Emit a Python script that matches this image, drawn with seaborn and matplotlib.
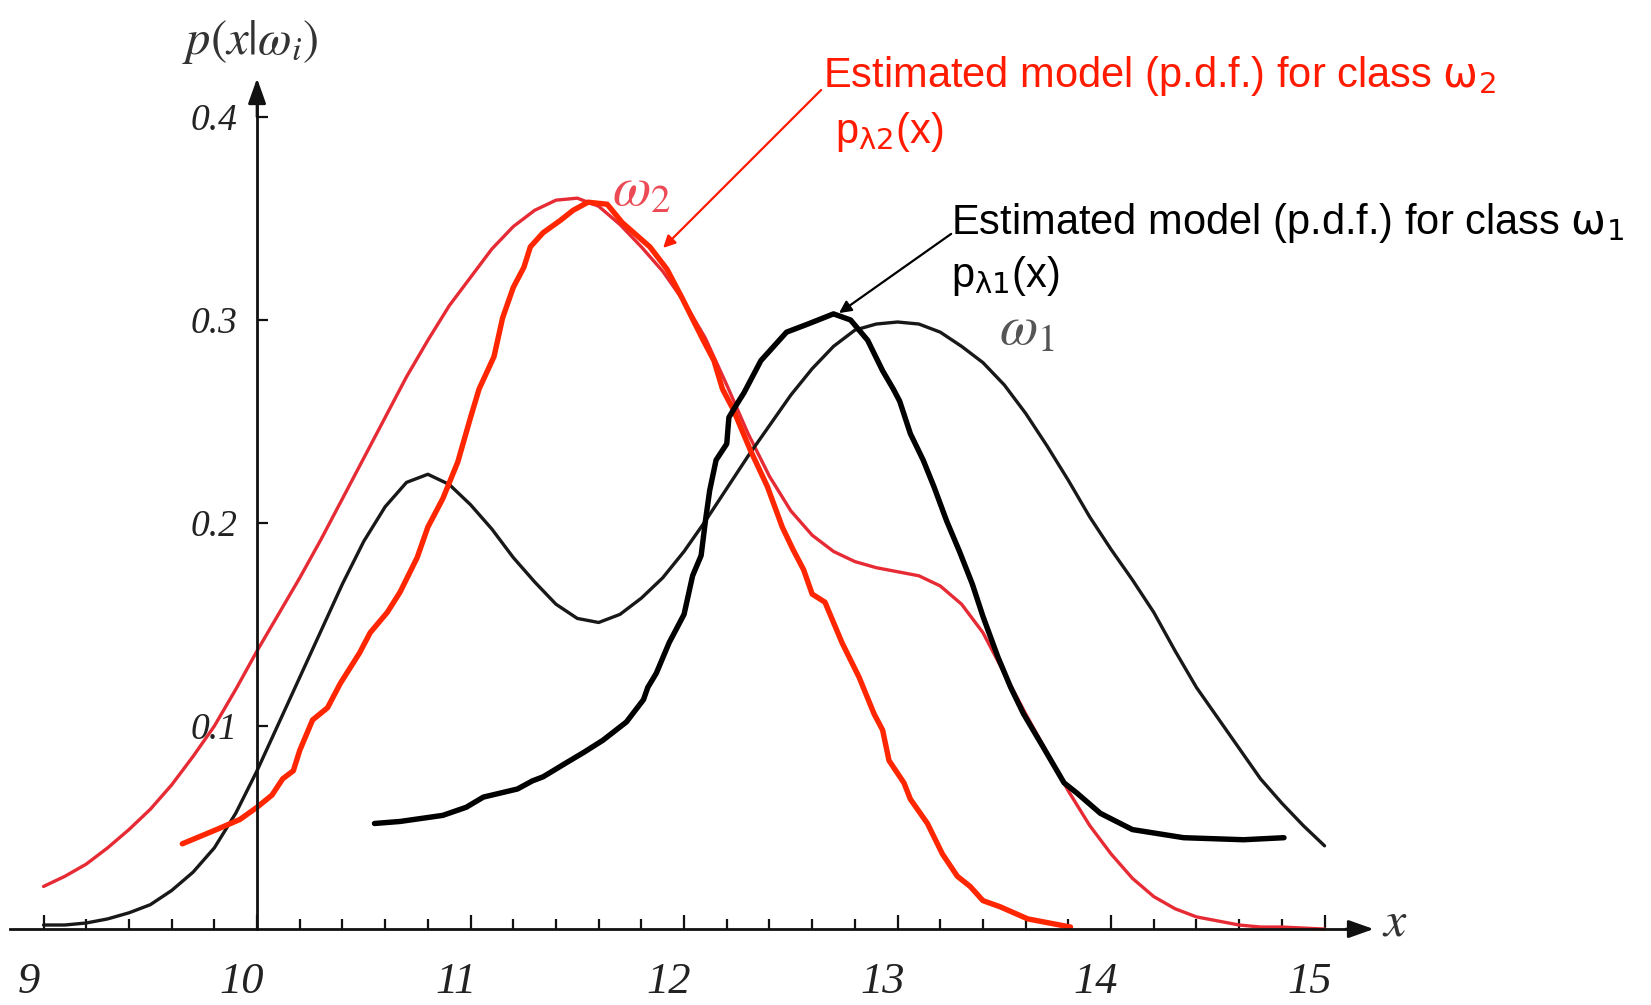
import numpy as np
import pandas as pd
import matplotlib
matplotlib.use('Agg')
import matplotlib.pyplot as plt
import matplotlib.transforms as mtransforms
import seaborn as sns

# true p.d.f. of class w2 (smooth red curve)
true2_x = [9.0, 9.1, 9.2, 9.3, 9.4, 9.5, 9.6, 9.7, 9.8, 9.9, 10.0, 10.1, 10.2, 10.3, 10.4,
           10.5, 10.6, 10.7, 10.8, 10.9, 11.0, 11.1, 11.2, 11.3, 11.4, 11.5, 11.6, 11.7,
           11.8, 11.9, 12.0, 12.1, 12.2, 12.3, 12.4, 12.5, 12.6, 12.7, 12.8, 12.9, 13.0,
           13.1, 13.2, 13.3, 13.4, 13.5, 13.6, 13.7, 13.8, 13.9, 14.0, 14.1, 14.2, 14.3,
           14.4, 14.5, 14.6, 14.7, 14.8, 14.9, 15.0]
true2_y = [0.021, 0.026, 0.032, 0.040, 0.049, 0.059, 0.071, 0.085, 0.100, 0.118, 0.137,
           0.155, 0.173, 0.192, 0.212, 0.232, 0.252, 0.272, 0.290, 0.307, 0.321, 0.335,
           0.346, 0.354, 0.359, 0.360, 0.356, 0.347, 0.336, 0.324, 0.309, 0.291, 0.268,
           0.244, 0.223, 0.206, 0.194, 0.186, 0.181, 0.178, 0.176, 0.174, 0.169, 0.160,
           0.146, 0.126, 0.106, 0.087, 0.068, 0.051, 0.037, 0.025, 0.016, 0.010, 0.006,
           0.004, 0.002, 0.001, 0.001, 0.0005, 0.0]

# true p.d.f. of class w1 (smooth black curve)
true1_x = [9.0, 9.1, 9.2, 9.3, 9.4, 9.5, 9.6, 9.7, 9.8, 9.9, 10.0, 10.1, 10.2, 10.3, 10.4,
           10.5, 10.6, 10.7, 10.8, 10.9, 11.0, 11.1, 11.2, 11.3, 11.4, 11.5, 11.6, 11.7,
           11.8, 11.9, 12.0, 12.1, 12.2, 12.3, 12.4, 12.5, 12.6, 12.7, 12.8, 12.9, 13.0,
           13.1, 13.2, 13.3, 13.4, 13.5, 13.6, 13.7, 13.8, 13.9, 14.0, 14.1, 14.2, 14.3,
           14.4, 14.5, 14.6, 14.7, 14.8, 14.9, 15.0]
true1_y = [0.002, 0.002, 0.003, 0.005, 0.008, 0.012, 0.019, 0.028, 0.040, 0.057, 0.078,
           0.101, 0.124, 0.147, 0.170, 0.191, 0.208, 0.220, 0.224, 0.219, 0.209, 0.197,
           0.183, 0.171, 0.160, 0.153, 0.151, 0.155, 0.163, 0.173, 0.186, 0.201, 0.217,
           0.233, 0.248, 0.263, 0.276, 0.287, 0.295, 0.298, 0.299, 0.298, 0.294, 0.287,
           0.279, 0.268, 0.254, 0.238, 0.221, 0.203, 0.187, 0.172, 0.156, 0.137, 0.119,
           0.104, 0.089, 0.074, 0.062, 0.051, 0.041]

# estimated model for class w2 (wiggly red curve)
est2_x = [9.65, 9.81, 9.92, 10.0, 10.07, 10.12, 10.17, 10.20, 10.26, 10.33, 10.39, 10.48,
          10.53, 10.61, 10.67, 10.75, 10.80, 10.87, 10.94, 11.00, 11.04, 11.11, 11.15,
          11.20, 11.25, 11.28, 11.34, 11.42, 11.48, 11.55, 11.64, 11.71, 11.84, 11.92,
          11.99, 12.09, 12.14, 12.18, 12.23, 12.31, 12.39, 12.46, 12.51, 12.56, 12.60,
          12.66, 12.70, 12.74, 12.82, 12.89, 12.93, 12.96, 13.03, 13.06, 13.14, 13.21,
          13.28, 13.34, 13.40, 13.48, 13.61, 13.81]
est2_y = [0.042, 0.049, 0.054, 0.060, 0.066, 0.074, 0.078, 0.088, 0.103, 0.109, 0.121,
          0.136, 0.146, 0.156, 0.166, 0.183, 0.198, 0.212, 0.230, 0.252, 0.266, 0.282,
          0.301, 0.316, 0.326, 0.336, 0.343, 0.349, 0.354, 0.358, 0.357, 0.348, 0.336,
          0.325, 0.311, 0.290, 0.280, 0.266, 0.256, 0.236, 0.218, 0.198, 0.187, 0.177,
          0.165, 0.161, 0.151, 0.141, 0.124, 0.106, 0.098, 0.083, 0.072, 0.064, 0.052,
          0.037, 0.026, 0.021, 0.014, 0.011, 0.005, 0.001]

# estimated model for class w1 (wiggly black curve)
est1_x = [10.55, 10.67, 10.87, 10.98, 11.06, 11.22, 11.29, 11.34, 11.45, 11.53, 11.62,
          11.73, 11.81, 11.83, 11.87, 11.93, 12.00, 12.04, 12.08, 12.10, 12.12, 12.15,
          12.20, 12.21, 12.25, 12.28, 12.32, 12.36, 12.42, 12.48, 12.58, 12.70, 12.78,
          12.86, 12.93, 12.98, 13.01, 13.06, 13.12, 13.17, 13.23, 13.29, 13.35, 13.40,
          13.47, 13.53, 13.59, 13.68, 13.78, 13.84, 13.95, 14.10, 14.34, 14.62, 14.81]
est1_y = [0.052, 0.053, 0.056, 0.060, 0.065, 0.069, 0.073, 0.075, 0.082, 0.087, 0.093,
          0.102, 0.113, 0.119, 0.126, 0.141, 0.155, 0.174, 0.184, 0.201, 0.216, 0.231,
          0.239, 0.252, 0.259, 0.264, 0.272, 0.280, 0.287, 0.294, 0.298, 0.303, 0.300,
          0.290, 0.275, 0.266, 0.260, 0.244, 0.231, 0.218, 0.201, 0.186, 0.170, 0.154,
          0.134, 0.119, 0.106, 0.090, 0.072, 0.067, 0.057, 0.049, 0.045, 0.044, 0.045]

x_ticks = [9, 10, 11, 12, 13, 14, 15]
x_tick_labels = ['9', '10', '11', '12', '13', '14', '15']
y_ticks = [0.1, 0.2, 0.3, 0.4]
y_tick_labels = ['0.1', '0.2', '0.3', '0.4']

sns.set_style('white')
plt.rcParams['font.family'] = ['Liberation Sans', 'DejaVu Sans']

fig = plt.figure(figsize=(16.51, 10.05), dpi=100)
ax = fig.add_axes([0, 0, 1, 1])

sns.lineplot(x=true2_x, y=true2_y, ax=ax, color='#e62b35', lw=2.4, sort=False, estimator=None)
sns.lineplot(x=true1_x, y=true1_y, ax=ax, color='#181818', lw=2.4, sort=False, estimator=None)
sns.lineplot(x=est2_x, y=est2_y, ax=ax, color='#ff2600', lw=3.9, sort=False, estimator=None)
sns.lineplot(x=est1_x, y=est1_y, ax=ax, color='black', lw=3.9, sort=False, estimator=None)

ax.set_xlim(8.796, 16.529)
ax.set_ylim(-0.0374, 0.4576)

# axes through the origin, drawn with arrows
for side in ['top', 'right']:
    ax.spines[side].set_visible(False)
ax.spines['left'].set_position(('data', 10))
ax.spines['bottom'].set_position(('data', 0))
ax.spines['left'].set_bounds(0, 0.41)
ax.spines['bottom'].set_bounds(8.845, 15.15)
for side in ['left', 'bottom']:
    ax.spines[side].set_linewidth(2.0)
    ax.spines[side].set_color('#111111')

arrow = dict(arrowstyle='-|>,head_length=0.45,head_width=0.16', color='#111111',
             lw=2.0, mutation_scale=34, shrinkA=0, shrinkB=0)
ax.annotate('', xy=(15.23, 0), xytext=(15.1, 0), arrowprops=arrow, annotation_clip=False)
ax.annotate('', xy=(10, 0.419), xytext=(10, 0.40), arrowprops=arrow, annotation_clip=False)

ax.set_xticks(x_ticks, labels=x_tick_labels, fontsize=32, fontfamily='Liberation Serif',
              fontstyle='italic', color='#222222')
ax.set_xticks(np.arange(9, 15.01, 0.2), minor=True)
ax.set_yticks(y_ticks, labels=y_tick_labels, fontsize=27, fontfamily='Liberation Serif',
              fontstyle='italic', color='#222222')
ax.tick_params(which='both', bottom=True, left=True)
ax.tick_params(axis='x', which='major', direction='in', length=10, width=1.6, pad=24,
               color='#111111')
ax.tick_params(axis='x', which='minor', direction='in', length=7, width=1.6, color='#111111')
ax.tick_params(axis='y', direction='in', length=8, width=1.6, pad=14, color='#111111')
shift = mtransforms.ScaledTranslation(-0.15, 0, fig.dpi_scale_trans)
for lbl in ax.get_xticklabels():
    lbl.set_transform(lbl.get_transform() + shift)

ax.text(9.967, 0.437, r'$p(x|\omega_i)$', math_fontfamily='stix', fontsize=35,
        ha='center', va='center', color='#333333')
ax.text(15.33, 0.003, r'$x$', math_fontfamily='stix', fontsize=36,
        ha='center', va='center', color='#333333')
ax.text(11.80, 0.3635, r'$\omega_2$', math_fontfamily='stix', fontsize=40,
        ha='center', va='center', color='#ec4b55')
ax.text(13.607, 0.2946, r'$\omega_1$', math_fontfamily='stix', fontsize=40,
        ha='center', va='center', color='#555555')

# annotations for the estimated models
ax.text(12.651, 0.4202, r'Estimated model (p.d.f.) for class $\mathrm{\omega}_{2}$',
        fontsize=30, color='#ff1a00', ha='left', va='center')
ax.text(12.707, 0.3926, r'p$_{\mathrm{\lambda 2}}$(x)', fontsize=30, color='#ff1a00',
        ha='left', va='center')
ax.annotate('', xy=(11.902, 0.3355), xytext=(12.642, 0.4133),
            arrowprops=dict(arrowstyle='-|>', color='#ff1a00', lw=1.6, mutation_scale=18,
                            shrinkA=0, shrinkB=0))

ax.text(13.251, 0.3478, r'Estimated model (p.d.f.) for class $\mathrm{\omega}_{1}$',
        fontsize=30, color='black', ha='left', va='center')
ax.text(13.251, 0.3217, r'p$_{\mathrm{\lambda 1}}$(x)', fontsize=30, color='black',
        ha='left', va='center')
ax.annotate('', xy=(12.726, 0.3034), xytext=(13.251, 0.3424),
            arrowprops=dict(arrowstyle='-|>', color='black', lw=1.6, mutation_scale=18,
                            shrinkA=0, shrinkB=0))

fig.savefig('out.png', dpi=100)
